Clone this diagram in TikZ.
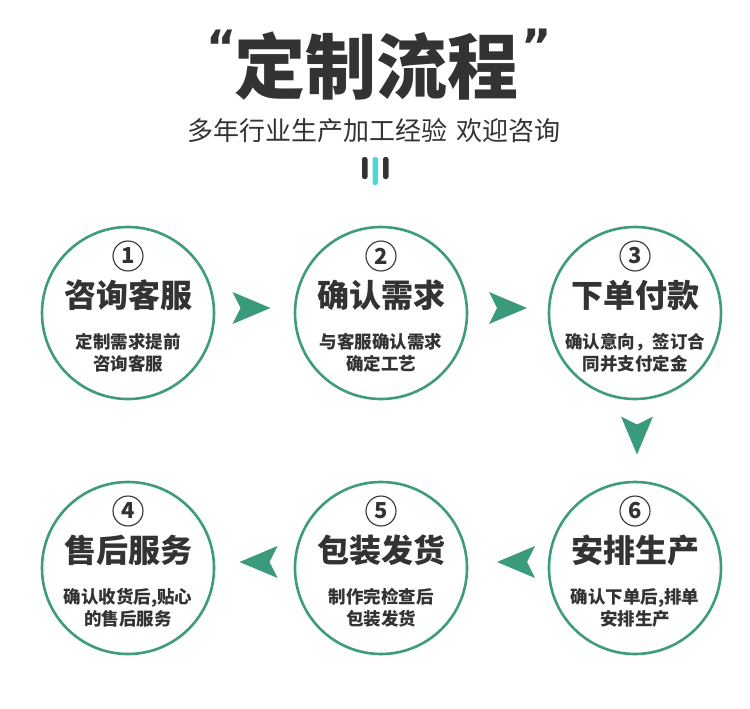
\documentclass[tikz,border=0pt]{standalone}
\usepackage{fontspec}
\setmainfont{Noto Sans CJK SC}
\newfontfamily\quotefont{DejaVu Sans}
\usetikzlibrary{calc}
\definecolor{txt}{HTML}{333333}
\definecolor{teal}{HTML}{3E9B7F}
\definecolor{arrowc}{HTML}{3A9A7C}
\definecolor{cyanbar}{HTML}{4FD6D6}
\tikzset{
  stepcircle/.style={circle,draw=teal,line width=2.6pt,minimum size=172pt,inner sep=0pt},
  numcircle/.style={circle,draw=txt,line width=1.1pt,minimum size=30pt,inner sep=0pt,text=txt,font=\fontsize{22}{22}\selectfont\bfseries},
  steptitle/.style={text=txt,font=\fontsize{32}{32}\selectfont\bfseries,inner sep=0pt},
  stepdesc/.style={text=txt,font=\fontsize{17.5}{22}\selectfont\bfseries,align=center,inner sep=0pt},
  chev/.pic={\fill[arrowc] (19,0) -- (-19,-16) -- (-11,0) -- (-19,16) -- cycle;}
}
\begin{document}
\begin{tikzpicture}[x=1pt,y=-1pt]
\useasboundingbox[fill=white] (0,0) rectangle (750,709);
% title
\node[text=txt,font=\fontsize{71}{71}\selectfont\bfseries,inner sep=0pt] (title) at (376,66) {定制流程};
\node[text=txt,font=\quotefont\fontsize{46}{46}\selectfont\bfseries,inner sep=0pt] (lq) at (222,47) {“};
\node[text=txt,font=\quotefont\fontsize{46}{46}\selectfont\bfseries,inner sep=0pt] (rq) at (537,46) {”};
\node[text=txt,font=\fontsize{26}{26}\selectfont,inner sep=0pt] (sub) at (374,131) {多年行业生产加工经验\hspace{0.35em}欢迎咨询};
% bars icon
\fill[txt,rounded corners=2.2pt] (362,157) rectangle (367.5,179);
\fill[cyanbar,rounded corners=2.2pt] (372.5,157) rectangle (378,185);
\fill[txt,rounded corners=2.2pt] (383,157) rectangle (388.5,179);
% circles
\foreach \n/\x/\y/\t/\da/\db in {
  1/128/313/咨询客服/定制需求提前/咨询客服,
  2/381/313/确认需求/与客服确认需求/确定工艺,
  3/635/313/下单付款/确认意向，签订合/同并支付定金,
  4/128/568/售后服务/{确认收货后,贴心}/的售后服务,
  5/381/568/包装发货/制作完检查后/包装发货,
  6/635/568/安排生产/{确认下单后,排单}/安排生产}{
  \node[stepcircle] (c\n) at (\x,\y) {};
  \node[numcircle] (n\n) at ($(c\n)+(0,-57)$) {\n};
  \node[steptitle] (t\n) at ($(c\n)+(0,-18)$) {\t};
  \node[stepdesc] (d\n) at ($(c\n)+(0,40)$) {\da\\\db};
}
% arrows
\coordinate (a12) at ($($(c1)!0.5!(c2)$)+(-3,-5)$);
\coordinate (a23) at ($($(c2)!0.5!(c3)$)+(0,-5)$);
\coordinate (a36) at ($($(c3)!0.5!(c6)$)+(2,-5)$);
\coordinate (a65) at ($($(c6)!0.5!(c5)$)+(8,-6)$);
\coordinate (a54) at ($($(c5)!0.5!(c4)$)+(4,-6)$);
\pic at (a12) {chev};
\pic at (a23) {chev};
\pic[rotate=-90] at (a36) {chev};
\pic[rotate=180] at (a65) {chev};
\pic[rotate=180] at (a54) {chev};
\end{tikzpicture}
\end{document}
